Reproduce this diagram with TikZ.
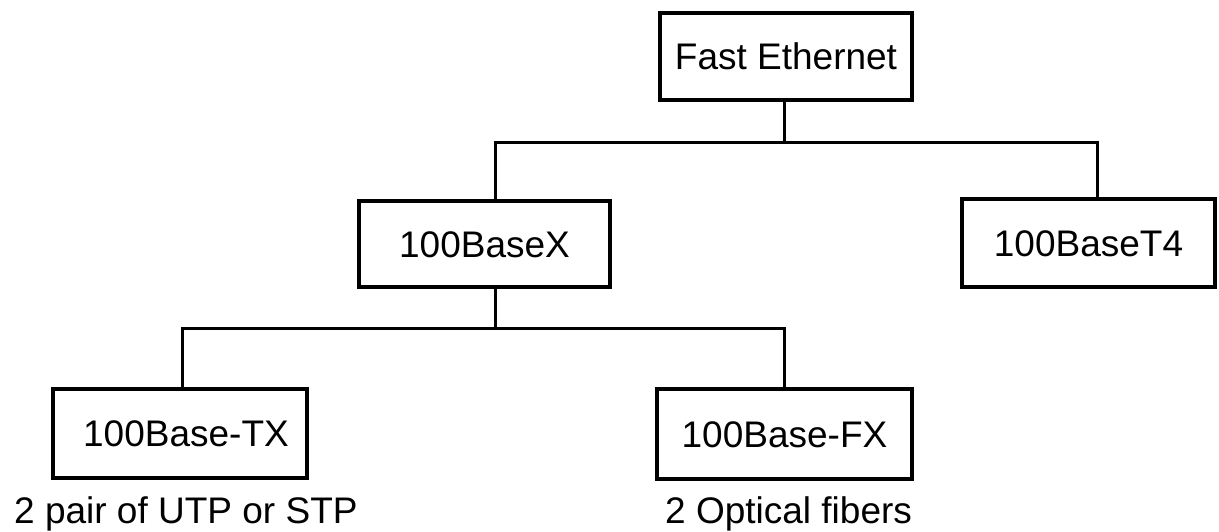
\documentclass[tikz,border=0pt]{standalone}
\usepackage{fontspec}
\setmainfont{Liberation Sans}
\begin{document}
\begin{tikzpicture}[x=1pt,y=-1pt,
  box/.style={draw=black, line width=3.4pt, rectangle, inner sep=0pt,
    text height=26.5pt, text depth=0pt,
    font=\fontsize{37}{44}\selectfont},
  conn/.style={draw=black, line width=3pt},
  lbl/.style={inner sep=0pt, anchor=base west, font=\fontsize{37}{44}\selectfont}]
\useasboundingbox (0,0) rectangle (1219,531);
\node[box, minimum width=252pt, minimum height=87pt] (FE) at (786,56.5) {Fast Ethernet};
\node[box, minimum width=251pt, minimum height=86pt] (BX) at (484.5,244) {100BaseX};
\node[box, minimum width=253pt, minimum height=88pt] (T4) at (1088.5,243) {100BaseT4};
\node[box, minimum width=254pt, minimum height=89pt] (TX) at (180,433.5) {\hspace{12pt}100Base-TX};
\node[box, minimum width=255pt, minimum height=90pt] (FX) at (784.5,434) {100Base-FX};
\node[lbl] (L1) at (14,523) {2 pair of UTP or STP};
\node[lbl] (L2) at (665,523) {2 Optical fibers};
\coordinate (j1) at (784,142);
\coordinate (hA) at (495,142);
\coordinate (hB) at (1097,142);
\coordinate (hC) at (182,328);
\coordinate (hD) at (784,328);
\draw[conn] (FE.south -| j1) -- (j1);
\draw[conn] (hA |- BX.north) -- (hA) -- (hB) -- (hB |- T4.north);
\draw[conn] (hA |- BX.south) -- (hA |- hC);
\draw[conn] (hC |- TX.north) -- (hC) -- (hD) -- (hD |- FX.north);
\end{tikzpicture}
\end{document}
